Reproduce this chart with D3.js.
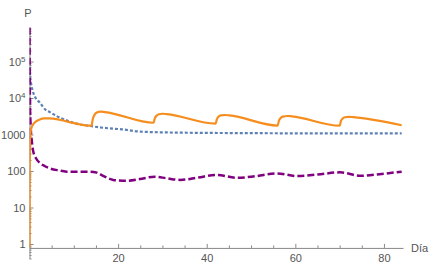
<!DOCTYPE html>
<html>
<head>
<meta charset="utf-8">
<script src="https://cdn.jsdelivr.net/npm/d3@7"></script>
<style>
  body { margin: 0; background: #fff; }
  text { font-family: "Liberation Sans", Arial, sans-serif; }
</style>
</head>
<body>
<svg id="drawing_region"></svg>
<script>
// P (log scale) over Día, three series
var orangeDays = [0, 0.03, 0.1, 0.3, 0.7, 1.3, 2.2, 3.3, 4.5,
  14, 14.3, 14.7, 15.2, 16.0, 17.0,
  28, 28.3, 28.7, 29.2, 30.0, 31.0,
  42, 42.3, 42.7, 43.2, 44.1, 45.1,
  56, 56.3, 56.7, 57.2, 58.2, 59.2,
  70, 70.3, 70.7, 71.2, 72.1, 73.1, 84];
var orangeVals = [0.8, 60, 700, 1300, 1800, 2200, 2550, 2780, 2750,
  1740, 2700, 3500, 4000, 4220, 4120,
  2100, 2800, 3300, 3580, 3700, 3620,
  1980, 2650, 3100, 3330, 3420, 3350,
  1760, 2400, 2850, 3100, 3210, 3150,
  1740, 2350, 2750, 2960, 3060, 3000, 1790];

var blueDays = [0, 0.15, 0.35, 0.7, 1.2, 2.4, 3.5, 4.6, 6.7, 8.5, 10.3, 13.7, 17.8, 20.8, 25, 31, 38.5, 50, 57, 70, 84];
var blueVals = [70000, 40000, 25000, 16000, 11000, 7300, 4900, 4100, 2950, 2400, 2030, 1710, 1480, 1390, 1200, 1140, 1110, 1090, 1080, 1080, 1080];

var purpleDays = [0, 0.1, 0.25, 0.5, 0.86, 1.5, 2.4, 3.5, 4.6, 6.5, 8.4, 11, 13.7, 15.2, 16.5, 18.9, 21.9, 24.9,
  28.3, 31, 34, 38, 42.3, 46.8, 51, 55.8, 60.3, 65, 70.1, 74.6, 79, 84];
var purpleVals = [850000, 8000, 1800, 707, 338, 220, 163, 135, 118, 104, 96, 95, 96, 90, 75, 57, 54, 60,
  70, 63, 57, 66, 78, 65, 72, 86, 73, 80, 92, 74, 82, 96];

var xMajor = [20, 40, 60, 80];
var xMinor = [5, 10, 15, 25, 30, 35, 45, 50, 55, 65, 70, 75];
var yMajor = [1, 10, 100, 1000, 1e4, 1e5];

var width = 435;
var height = 269;

var svg = d3.select('#drawing_region')
    .attr('width', width)
    .attr('height', height);

var xscale = d3.scaleLinear().domain([0, 84.3]).range([29.5, 403]);
var yscale = d3.scaleLog().domain([0.4, 8.5e5]).range([258.5, 27.6]);
var axisY = yscale(0.78);

// plot region clip (curves along the y axis get cut in half like the original)
svg.append('defs').append('clipPath').attr('id', 'plotclip')
  .append('rect')
    .attr('x', xscale(0)).attr('y', 20)
    .attr('width', 390).attr('height', 240);

// minor log ticks 2..9 per decade
var yMinor = [];
for (var e = -1; e <= 5; e++) {
  for (var m = 2; m <= 9; m++) {
    var v = m * Math.pow(10, e);
    if (v >= 0.4 && v <= 8.5e5) yMinor.push(v);
  }
}

var axisColor = '#888';
var labelColor = '#555';

// x axis
var xaxis_group = svg.append('g')
    .attr('transform', `translate(0, ${axisY})`)
    .call(d3.axisBottom(xscale).tickValues(xMajor).tickSize(-4).tickSizeOuter(0).tickPadding(6));
svg.append('g')
    .attr('transform', `translate(0, ${axisY})`)
    .call(d3.axisBottom(xscale).tickValues(xMinor).tickSize(-2.5).tickSizeOuter(0).tickFormat(''))
    .select('.domain').remove();

// y axis
var yaxis_group = svg.append('g')
    .attr('transform', `translate(${xscale(0)}, 0)`)
    .call(d3.axisLeft(yscale).tickValues(yMajor).tickSize(-4).tickSizeOuter(0).tickPadding(4)
      .tickFormat(d => d >= 1e4 ? '' : String(d)));
svg.append('g')
    .attr('transform', `translate(${xscale(0)}, 0)`)
    .call(d3.axisLeft(yscale).tickValues(yMinor).tickSize(-2).tickSizeOuter(0).tickFormat(''))
    .select('.domain').remove();

// superscript labels for 10^4, 10^5
yaxis_group.selectAll('.tick text')
    .filter(d => d >= 1e4)
    .each(function(d) {
      var t = d3.select(this);
      t.append('tspan').text('10');
      t.append('tspan').attr('dy', '-0.45em').attr('font-size', '8px').text(Math.round(Math.log10(d)));
    });

svg.selectAll('.domain, .tick line').attr('stroke', axisColor);
svg.selectAll('.tick text').attr('fill', labelColor).attr('font-size', '11px')
    .attr('font-family', '"Liberation Sans", Arial, sans-serif');

svg.append('text').attr('x', 28).attr('y', 17).attr('text-anchor', 'middle')
    .attr('fill', labelColor).attr('font-size', '11px').text('P');
svg.append('text').attr('x', 411).attr('y', axisY + 4).attr('fill', labelColor)
    .attr('font-size', '11px').text('Día');

// lines
var plot = svg.append('g').attr('clip-path', 'url(#plotclip)');

function drawSeries(days, vals, color, w, dash) {
  var pts = days.map((d, i) => [d, vals[i]]);
  var line = d3.line()
      .x(d => xscale(d[0]))
      .y(d => yscale(d[1]))
      .curve(d3.curveMonotoneX);
  plot.append('path')
      .datum(pts)
      .attr('d', line)
      .attr('fill', 'none')
      .attr('stroke', color)
      .attr('stroke-width', w)
      .attr('stroke-dasharray', dash);
}

drawSeries(blueDays, blueVals, '#5E81B5', 2.2, '3,2');
drawSeries(purpleDays, purpleVals, '#800080', 2.5, '7,3');
drawSeries(orangeDays, orangeVals, '#F58E1E', 2.2, null);
</script>
</body>
</html>
